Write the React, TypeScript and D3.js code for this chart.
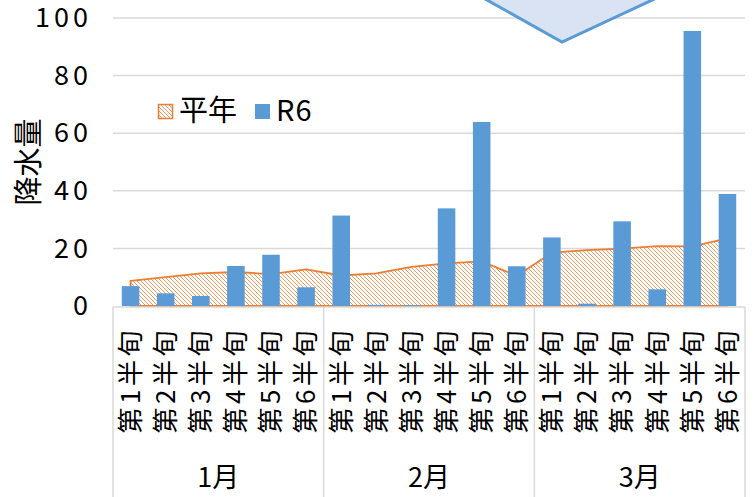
import React, { useEffect, useRef } from 'react';
import * as d3 from 'd3';

// data
const months = ['1月', '2月', '3月'];
const halfTerms = ['第1半旬', '第2半旬', '第3半旬', '第4半旬', '第5半旬', '第6半旬'];
const normalValues = [8.7, 10, 11.3, 11.8, 11.1, 12.7, 10.6, 11.3, 13.6, 14.8, 15.5, 10.5, 18.5, 19.4, 19.9, 20.8, 20.7, 23.5];
const r6Values = [6.9, 4.4, 3.5, 13.9, 17.8, 6.5, 31.4, 0.4, 0.3, 33.9, 63.9, 13.8, 23.8, 0.8, 29.4, 5.8, 95.5, 38.9];
const yTicks = [0, 20, 40, 60, 80, 100];
const seriesNames = ['平年', 'R6'];

const W = 755;
const H = 497;
const BLUE = '#5B9BD5';
const ORANGE = '#ED7D31';
const GRID = '#D9D9D9';
const JP = '"Noto Sans CJK JP", "Noto Sans", sans-serif';

const App = () => {
    const svgRef = useRef<SVGSVGElement>(null);

    useEffect(() => {
        const svg = d3.select(svgRef.current);
        svg.selectAll('*').remove();

        const left = 113, right = 745, top = 18, bottom = 306;
        const cats = months.flatMap(m => halfTerms.map(h => `${m}-${h}`));

        const x = d3.scaleBand<string>()
            .domain(cats)
            .range([left, right])
            .paddingInner(0.5)
            .paddingOuter(0.25);
        const y = d3.scaleLinear().domain([0, 100]).range([bottom, top]);
        const cx = (i: number) => x(cats[i])! + x.bandwidth() / 2;

        // hatch pattern for 平年
        const defs = svg.append('defs');
        const pat = defs.append('pattern')
            .attr('id', 'hatch')
            .attr('patternUnits', 'userSpaceOnUse')
            .attr('width', 4)
            .attr('height', 4);
        pat.append('rect').attr('width', 4).attr('height', 4).attr('fill', '#fff');
        pat.append('path')
            .attr('d', 'M-1,-1 L5,5 M3,-1 L5,1 M-1,3 L1,5')
            .attr('stroke', ORANGE)
            .attr('stroke-width', 0.8);

        // grid lines
        svg.append('g')
            .selectAll('line')
            .data(yTicks.filter(t => t > 0))
            .enter().append('line')
            .attr('x1', left).attr('x2', right)
            .attr('y1', d => y(d)).attr('y2', d => y(d))
            .attr('stroke', GRID)
            .attr('stroke-width', 1.5);

        // area
        const area = d3.area<number>()
            .x((d, i) => cx(i))
            .y0(y(0))
            .y1(d => y(d));
        svg.append('path')
            .datum(normalValues)
            .attr('d', area)
            .attr('fill', 'url(#hatch)')
            .attr('stroke', ORANGE)
            .attr('stroke-width', 1.8);

        // bars
        svg.append('g')
            .selectAll('rect')
            .data(r6Values)
            .enter().append('rect')
            .attr('x', (d, i) => x(cats[i])!)
            .attr('width', x.bandwidth())
            .attr('y', d => y(d))
            .attr('height', d => y(0) - y(d))
            .attr('fill', BLUE);

        // category axis box
        const axisY = bottom + 1;
        svg.append('line')
            .attr('x1', left).attr('x2', right)
            .attr('y1', axisY).attr('y2', axisY)
            .attr('stroke', GRID).attr('stroke-width', 1.5);
        const step = x.step();
        const bounds = d3.range(months.length + 1).map(k => left + step * halfTerms.length * k);
        svg.append('g')
            .selectAll('line')
            .data(bounds)
            .enter().append('line')
            .attr('x1', d => d).attr('x2', d => d)
            .attr('y1', axisY).attr('y2', H + 5)
            .attr('stroke', GRID).attr('stroke-width', 1.5);

        // rotated half-term labels
        svg.append('g')
            .selectAll('text')
            .data(cats)
            .enter().append('text')
            .attr('transform', (d, i) => `translate(${cx(i)},327) rotate(-90)`)
            .attr('text-anchor', 'end')
            .attr('dy', '0.36em')
            .attr('font-family', JP)
            .attr('font-size', 26)
            .attr('letter-spacing', 3.5)
            .attr('fill', '#000')
            .text(d => d.split('-')[1]);

        // month labels
        svg.append('g')
            .selectAll('text')
            .data(months)
            .enter().append('text')
            .attr('x', (d, k) => (bounds[k] + bounds[k + 1]) / 2)
            .attr('y', 487)
            .attr('text-anchor', 'middle')
            .attr('font-family', JP)
            .attr('font-size', 27)
            .attr('fill', '#000')
            .text(d => d);

        // y tick labels
        svg.append('g')
            .selectAll('text')
            .data(yTicks)
            .enter().append('text')
            .attr('x', 92)
            .attr('y', d => y(d))
            .attr('dy', '0.34em')
            .attr('text-anchor', 'end')
            .attr('font-family', JP)
            .attr('font-size', 27)
            .attr('letter-spacing', 4)
            .attr('fill', '#000')
            .text(d => d);

        // y axis title
        svg.append('text')
            .attr('transform', 'translate(29,162) rotate(-90)')
            .attr('text-anchor', 'middle')
            .attr('dy', '0.36em')
            .attr('font-family', JP)
            .attr('font-size', 29)
            .attr('fill', '#000')
            .text('降水量');

        // callout arrow shape
        svg.append('path')
            .attr('d', 'M478,-5 L562,42 L663,-5 Z')
            .attr('fill', '#DAE3F3')
            .attr('stroke', BLUE)
            .attr('stroke-width', 3)
            .attr('stroke-linejoin', 'miter');

        // legend
        const legend = svg.append('g');
        legend.append('rect')
            .attr('x', 158.5).attr('y', 104.5)
            .attr('width', 14).attr('height', 14)
            .attr('fill', 'url(#hatch)')
            .attr('stroke', ORANGE).attr('stroke-width', 1.5);
        legend.append('text')
            .attr('x', 179).attr('y', 111).attr('dy', '0.36em')
            .attr('font-family', JP).attr('font-size', 29)
            .text(seriesNames[0]);
        legend.append('rect')
            .attr('x', 255).attr('y', 104)
            .attr('width', 15).attr('height', 15)
            .attr('fill', BLUE);
        legend.append('text')
            .attr('x', 276).attr('y', 111).attr('dy', '0.36em')
            .attr('font-family', JP).attr('font-size', 29)
            .attr('letter-spacing', 1)
            .text(seriesNames[1]);
    }, []);

    return (
        <svg ref={svgRef} width={W} height={H}
            style={{ position: 'absolute', left: 0, top: 0, background: '#fff' }} />
    );
};

export default App;
